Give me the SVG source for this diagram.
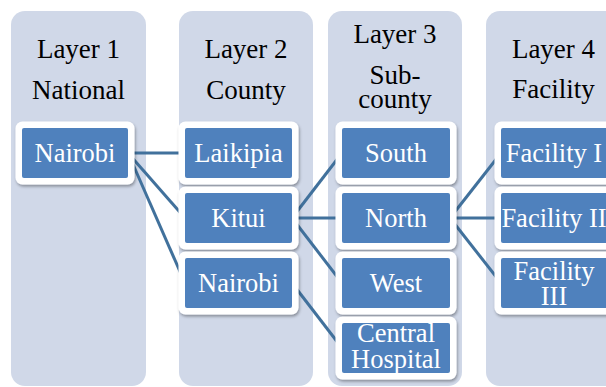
<svg xmlns="http://www.w3.org/2000/svg" width="606" height="387" viewBox="0 0 606 387">
<defs>
<filter id="sh" x="-20%" y="-20%" width="140%" height="150%">
<feDropShadow dx="1" dy="2" stdDeviation="1.5" flood-color="#000" flood-opacity="0.35"/>
</filter>
</defs>
<style>
.col{fill:#D0D8E8}
.hdr{font-size:27px;fill:#000;text-anchor:middle}
.frame{fill:#fff;filter:url(#sh)}
.box{fill:#4F81BD}
.lbl{font-size:26.5px;fill:#fff;text-anchor:middle}
.con{stroke:#41719C;stroke-width:3;fill:none}
</style>
<g id="columns">
<rect class="col" x="11" y="11" width="135" height="375" rx="14"/>
<rect class="col" x="179" y="11" width="134" height="375" rx="14"/>
<rect class="col" x="328" y="11" width="134" height="375" rx="14"/>
<rect class="col" x="486" y="11" width="135" height="375" rx="14"/>
</g>
<g id="headers">
<text class="hdr" font-family="Liberation Serif" x="78.5" y="58">Layer 1</text>
<text class="hdr" font-family="Liberation Serif" x="78.5" y="99">National</text>
<text class="hdr" font-family="Liberation Serif" x="246" y="58">Layer 2</text>
<text class="hdr" font-family="Liberation Serif" x="246" y="99">County</text>
<text class="hdr" font-family="Liberation Serif" x="395" y="43">Layer 3</text>
<text class="hdr" font-family="Liberation Serif" x="395" y="84">Sub-</text>
<text class="hdr" font-family="Liberation Serif" x="395" y="108">county</text>
<text class="hdr" font-family="Liberation Serif" x="553.5" y="58">Layer 4</text>
<text class="hdr" font-family="Liberation Serif" x="553.5" y="98">Facility</text>
</g>
<g id="connectors">
<line class="con" x1="128" y1="153" x2="185" y2="153"/>
<line class="con" x1="128" y1="153" x2="185" y2="218"/>
<line class="con" x1="128" y1="153" x2="185" y2="283"/>
<line class="con" x1="292" y1="218" x2="342" y2="153"/>
<line class="con" x1="292" y1="218" x2="342" y2="218"/>
<line class="con" x1="292" y1="218" x2="342" y2="283"/>
<line class="con" x1="292" y1="283" x2="342" y2="348"/>
<line class="con" x1="450" y1="218" x2="501" y2="153"/>
<line class="con" x1="450" y1="218" x2="501" y2="218"/>
<line class="con" x1="450" y1="218" x2="501" y2="283"/>
</g>
<g id="n-nairobi-national">
<rect class="frame" x="15.5" y="121.5" width="119" height="63" rx="7"/>
<rect class="box" x="22" y="128" width="106" height="50" rx="2"/>
<text class="lbl" font-family="Liberation Serif" x="75" y="162">Nairobi</text>
</g>
<g id="n-laikipia">
<rect class="frame" x="178.5" y="121.5" width="120" height="63" rx="7"/>
<rect class="box" x="185" y="128" width="107" height="50" rx="2"/>
<text class="lbl" font-family="Liberation Serif" x="238.5" y="162">Laikipia</text>
</g>
<g id="n-kitui">
<rect class="frame" x="178.5" y="186.5" width="120" height="63" rx="7"/>
<rect class="box" x="185" y="193" width="107" height="50" rx="2"/>
<text class="lbl" font-family="Liberation Serif" x="238.5" y="227">Kitui</text>
</g>
<g id="n-nairobi-county">
<rect class="frame" x="178.5" y="251.5" width="120" height="63" rx="7"/>
<rect class="box" x="185" y="258" width="107" height="50" rx="2"/>
<text class="lbl" font-family="Liberation Serif" x="238.5" y="292">Nairobi</text>
</g>
<g id="n-south">
<rect class="frame" x="335.5" y="121.5" width="121" height="63" rx="7"/>
<rect class="box" x="342" y="128" width="108" height="50" rx="2"/>
<text class="lbl" font-family="Liberation Serif" x="396" y="162">South</text>
</g>
<g id="n-north">
<rect class="frame" x="335.5" y="186.5" width="121" height="63" rx="7"/>
<rect class="box" x="342" y="193" width="108" height="50" rx="2"/>
<text class="lbl" font-family="Liberation Serif" x="396" y="227">North</text>
</g>
<g id="n-west">
<rect class="frame" x="335.5" y="251.5" width="121" height="63" rx="7"/>
<rect class="box" x="342" y="258" width="108" height="50" rx="2"/>
<text class="lbl" font-family="Liberation Serif" x="396" y="292">West</text>
</g>
<g id="n-central-hospital">
<rect class="frame" x="335.5" y="316.5" width="121" height="63" rx="7"/>
<rect class="box" x="342" y="323" width="108" height="50" rx="2"/>
<text class="lbl" font-family="Liberation Serif" x="396" y="342">Central</text>
<text class="lbl" font-family="Liberation Serif" x="396" y="368">Hospital</text>
</g>
<g id="n-facility-1">
<rect class="frame" x="494.5" y="121.5" width="120" height="63" rx="7"/>
<rect class="box" x="501" y="128" width="107" height="50" rx="2"/>
<text class="lbl" font-family="Liberation Serif" x="554" y="162">Facility I</text>
</g>
<g id="n-facility-2">
<rect class="frame" x="494.5" y="186.5" width="120" height="63" rx="7"/>
<rect class="box" x="501" y="193" width="107" height="50" rx="2"/>
<text class="lbl" font-family="Liberation Serif" x="554" y="227">Facility II</text>
</g>
<g id="n-facility-3">
<rect class="frame" x="494.5" y="251.5" width="120" height="63" rx="7"/>
<rect class="box" x="501" y="258" width="107" height="50" rx="2"/>
<text class="lbl" font-family="Liberation Serif" x="554" y="280">Facility</text>
<text class="lbl" font-family="Liberation Serif" x="554" y="305">III</text>
</g>
</svg>
